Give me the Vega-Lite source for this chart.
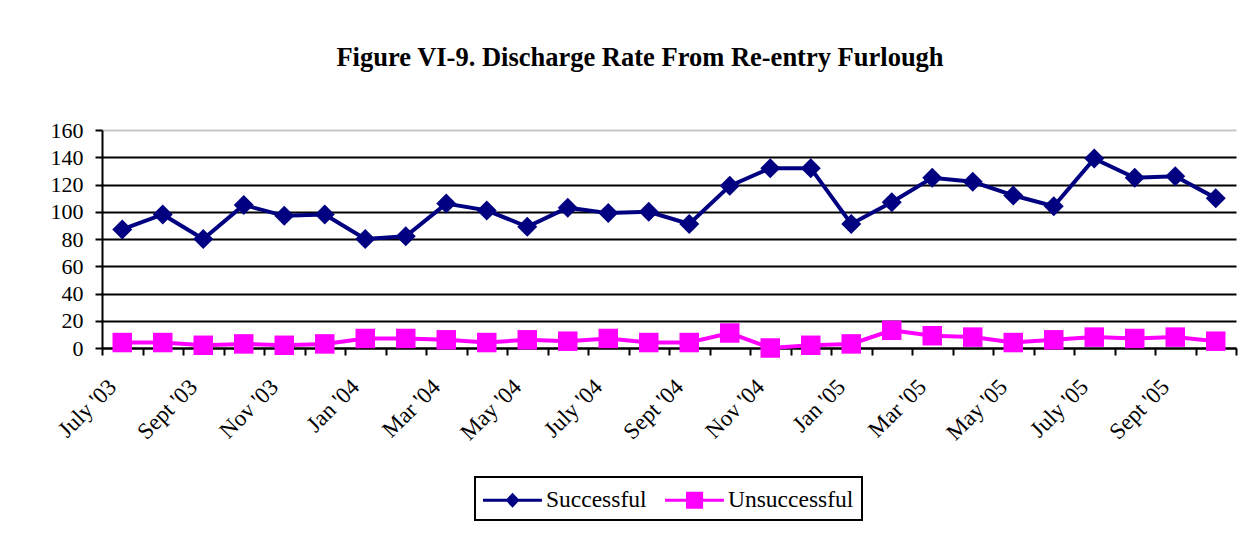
{
  "$schema": "https://vega.github.io/schema/vega-lite/v6.json",
  "width": 1134,
  "height": 218,
  "autosize": {"type": "none"},
  "padding": {"left": 102, "top": 130, "right": 23, "bottom": 187},
  "background": "white",
  "config": {
    "view": {"stroke": null},
    "font": "Liberation Serif"
  },
  "title": {
    "text": "Figure VI-9. Discharge Rate From Re-entry Furlough",
    "font": "Liberation Serif",
    "fontSize": 26.5,
    "fontWeight": "bold",
    "color": "black",
    "anchor": "middle",
    "frame": "group",
    "dx": -29,
    "baseline": "alphabetic",
    "offset": 27
  },
  "data": {
    "values": [
      {"month": "July '03", "series": "Successful", "value": 87},
      {"month": "Aug '03", "series": "Successful", "value": 98},
      {"month": "Sept '03", "series": "Successful", "value": 80},
      {"month": "Oct '03", "series": "Successful", "value": 105},
      {"month": "Nov '03", "series": "Successful", "value": 97},
      {"month": "Dec '03", "series": "Successful", "value": 98},
      {"month": "Jan '04", "series": "Successful", "value": 80},
      {"month": "Feb '04", "series": "Successful", "value": 82},
      {"month": "Mar '04", "series": "Successful", "value": 106},
      {"month": "Apr '04", "series": "Successful", "value": 101},
      {"month": "May '04", "series": "Successful", "value": 89},
      {"month": "June '04", "series": "Successful", "value": 103},
      {"month": "July '04", "series": "Successful", "value": 99},
      {"month": "Aug '04", "series": "Successful", "value": 100},
      {"month": "Sept '04", "series": "Successful", "value": 91},
      {"month": "Oct '04", "series": "Successful", "value": 119},
      {"month": "Nov '04", "series": "Successful", "value": 132},
      {"month": "Dec '04", "series": "Successful", "value": 132},
      {"month": "Jan '05", "series": "Successful", "value": 91},
      {"month": "Feb '05", "series": "Successful", "value": 107},
      {"month": "Mar '05", "series": "Successful", "value": 125},
      {"month": "Apr '05", "series": "Successful", "value": 122},
      {"month": "May '05", "series": "Successful", "value": 112},
      {"month": "June '05", "series": "Successful", "value": 104},
      {"month": "July '05", "series": "Successful", "value": 139},
      {"month": "Aug '05", "series": "Successful", "value": 125},
      {"month": "Sept '05", "series": "Successful", "value": 126},
      {"month": "Oct '05", "series": "Successful", "value": 110},
      {"month": "July '03", "series": "Unsuccessful", "value": 4},
      {"month": "Aug '03", "series": "Unsuccessful", "value": 4},
      {"month": "Sept '03", "series": "Unsuccessful", "value": 2},
      {"month": "Oct '03", "series": "Unsuccessful", "value": 3},
      {"month": "Nov '03", "series": "Unsuccessful", "value": 2},
      {"month": "Dec '03", "series": "Unsuccessful", "value": 3},
      {"month": "Jan '04", "series": "Unsuccessful", "value": 7},
      {"month": "Feb '04", "series": "Unsuccessful", "value": 7},
      {"month": "Mar '04", "series": "Unsuccessful", "value": 6},
      {"month": "Apr '04", "series": "Unsuccessful", "value": 4},
      {"month": "May '04", "series": "Unsuccessful", "value": 6},
      {"month": "June '04", "series": "Unsuccessful", "value": 5},
      {"month": "July '04", "series": "Unsuccessful", "value": 7},
      {"month": "Aug '04", "series": "Unsuccessful", "value": 4},
      {"month": "Sept '04", "series": "Unsuccessful", "value": 4},
      {"month": "Oct '04", "series": "Unsuccessful", "value": 11},
      {"month": "Nov '04", "series": "Unsuccessful", "value": 0},
      {"month": "Dec '04", "series": "Unsuccessful", "value": 2},
      {"month": "Jan '05", "series": "Unsuccessful", "value": 3},
      {"month": "Feb '05", "series": "Unsuccessful", "value": 13},
      {"month": "Mar '05", "series": "Unsuccessful", "value": 9},
      {"month": "Apr '05", "series": "Unsuccessful", "value": 8},
      {"month": "May '05", "series": "Unsuccessful", "value": 4},
      {"month": "June '05", "series": "Unsuccessful", "value": 6},
      {"month": "July '05", "series": "Unsuccessful", "value": 8},
      {"month": "Aug '05", "series": "Unsuccessful", "value": 7},
      {"month": "Sept '05", "series": "Unsuccessful", "value": 8},
      {"month": "Oct '05", "series": "Unsuccessful", "value": 5}
    ]
  },
  "encoding": {
    "x": {
      "field": "month",
      "type": "ordinal",
      "sort": null,
      "title": null,
      "bandPosition": 0.5,
      "scale": {"type": "band", "paddingInner": 0, "paddingOuter": 0},
      "axis": {
        "tickBand": "extent",
        "labelAngle": -45,
        "labelAlign": "right",
        "labelBaseline": "middle",
        "labelPadding": 28,
        "labelOffset": -10,
        "labelOverlap": false,
        "labelFont": "Liberation Serif",
        "labelFontSize": 23,
        "labelColor": "black",
        "labelExpr": "test(/^(July|Sept|Nov|Jan|Mar|May)/, datum.value) ? datum.value : ''",
        "domainColor": "black",
        "domainWidth": 2,
        "tickColor": "black",
        "tickWidth": 2,
        "tickSize": 7,
        "grid": false
      }
    },
    "y": {
      "field": "value",
      "type": "quantitative",
      "title": null,
      "scale": {"domain": [0, 160], "nice": false},
      "axis": {
        "values": [0, 20, 40, 60, 80, 100, 120, 140, 160],
        "grid": true,
        "gridColor": {"condition": {"test": "datum.value === 160", "value": "#c8c8c8"}, "value": "black"},
        "gridWidth": 2,
        "domainColor": "black",
        "domainWidth": 2,
        "tickColor": "black",
        "tickWidth": 2,
        "tickSize": 7,
        "labelPadding": 12,
        "labelOverlap": false,
        "labelFont": "Liberation Serif",
        "labelFontSize": 22,
        "labelColor": "black"
      }
    },
    "color": {
      "field": "series",
      "type": "nominal",
      "scale": {"domain": ["Successful", "Unsuccessful"], "range": ["#000080", "#FF00FF"]},
      "legend": {
        "orient": "none",
        "legendX": 373,
        "legendY": 347,
        "direction": "horizontal",
        "title": null,
        "strokeColor": "black",
        "padding": 8,
        "labelFont": "Liberation Serif",
        "labelFontSize": 23.5,
        "labelColor": "black",
        "symbolSize": 900,
        "columnPadding": 18,
        "labelOffset": 33,
        "symbolStrokeWidth": 0,
        "encode": {
          "symbols": {
            "update": {
              "shape": {"signal": "datum.value === 'Successful' ? 'M-1,-0.1H2.93V0.1H-1Z M0.97,-0.5L1.44,0L0.97,0.5L0.5,0Z' : 'M-1,-0.1H2.93V0.1H-1Z M0.4,-0.57H1.54V0.57H0.4Z'"},
              "fill": {"signal": "datum.value === 'Successful' ? '#000080' : '#FF00FF'"},
              "opacity": {"value": 1},
              "strokeWidth": {"value": 0}
            }
          },
          "legend": {"update": {"strokeWidth": {"value": 2}}}
        }
      }
    }
  },
  "layer": [
    {"mark": {"type": "line", "strokeWidth": 4}},
    {
      "transform": [{"filter": "datum.series === 'Successful'"}],
      "mark": {"type": "point", "shape": "diamond", "filled": true, "size": 400, "opacity": 1}
    },
    {
      "transform": [{"filter": "datum.series === 'Unsuccessful'"}],
      "mark": {"type": "point", "shape": "square", "filled": true, "size": 380, "opacity": 1}
    }
  ]
}
